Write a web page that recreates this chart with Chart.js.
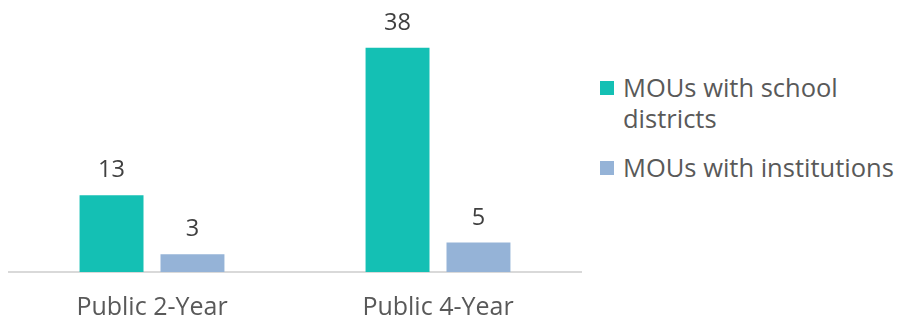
<!DOCTYPE html>
<html>
<head>
<meta charset="utf-8">
<script src="https://cdn.jsdelivr.net/npm/chart.js@4.4.0/dist/chart.umd.min.js"></script>
<style>
  html, body { margin: 0; padding: 0; background: #fff; }
  #wrap { position: relative; width: 902px; height: 322px; font-family: "Open Sans", sans-serif; }
  #chartBox { position: absolute; left: 0; top: 0; width: 590px; height: 322px; }
  #legend { position: absolute; left: 600px; top: 72px; color: #595959; font-size: 25.5px; line-height: 31px; }
  .item { position: relative; padding-left: 23px; margin-bottom: 18px; }
  .swatch { position: absolute; left: 0; top: 9px; width: 14px; height: 14px; }
</style>
</head>
<body>
<div id="wrap">
  <div id="chartBox"><canvas id="mou"></canvas></div>
  <div id="legend"></div>
</div>
<script>
const categories = ['Public 2-Year', 'Public 4-Year'];
const schoolDistricts = [13, 38];
const institutions = [3, 5];
const seriesNames = ['MOUs with school districts', 'MOUs with institutions'];
const seriesColors = ['#14c0b4', '#95b3d7'];

// value labels drawn just above each bar
const barValues = {
  id: 'barValues',
  afterDatasetsDraw(chart) {
    const { ctx } = chart;
    ctx.save();
    ctx.font = '23.5px "Open Sans", sans-serif';
    ctx.fillStyle = '#404040';
    ctx.textAlign = 'center';
    ctx.textBaseline = 'alphabetic';
    chart.data.datasets.forEach((ds, i) => {
      chart.getDatasetMeta(i).data.forEach((bar, j) => {
        ctx.fillText(ds.data[j], bar.x, bar.y - 18);
      });
    });
    ctx.restore();
  }
};

new Chart(document.getElementById('mou'), {
  type: 'bar',
  data: {
    labels: categories,
    datasets: [
      { label: seriesNames[0], data: schoolDistricts, backgroundColor: seriesColors[0] },
      { label: seriesNames[1], data: institutions, backgroundColor: seriesColors[1] }
    ]
  },
  options: {
    responsive: true,
    maintainAspectRatio: false,
    animation: false,
    categoryPercentage: 0.566,
    barPercentage: 0.79,
    layout: { padding: { left: 9, right: 9, top: 36, bottom: 0 } },
    scales: {
      x: {
        grid: { display: false, drawTicks: false },
        border: { display: true, color: '#d9d9d9', width: 2 },
        ticks: { color: '#595959', padding: 21, font: { family: 'Open Sans', size: 25 } },
        afterFit(scale) { scale.height = 50; }
      },
      y: { display: false, min: 0, max: 40 }
    },
    plugins: { legend: { display: false }, tooltip: { enabled: false } }
  },
  plugins: [barValues]
});

// legend on the right, text wraps like the original
const legendEl = document.getElementById('legend');
const legendLines = [['MOUs with school', 'districts'], ['MOUs with institutions']];
legendLines.forEach((lines, i) => {
  const div = document.createElement('div');
  div.className = 'item';
  div.innerHTML = `<span class="swatch" style="background:${seriesColors[i]}"></span>` + lines.join('<br>');
  legendEl.appendChild(div);
});
</script>
</body>
</html>
